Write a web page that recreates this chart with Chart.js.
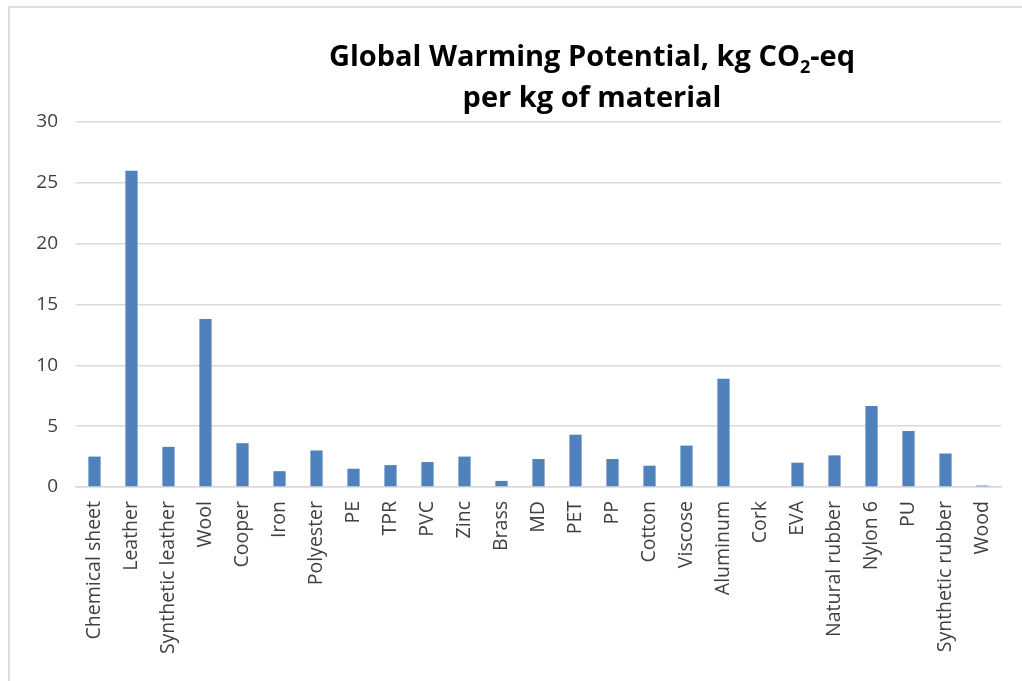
<!DOCTYPE html>
<html>
<head>
<meta charset="utf-8">
<title>Global Warming Potential per kg of material</title>
<script src="https://cdn.jsdelivr.net/npm/chart.js@4.4.1/dist/chart.umd.min.js"></script>
<style>
  html, body { margin: 0; padding: 0; background: #ffffff; }
  #wrap { position: relative; width: 1022px; height: 681px; overflow: hidden; }
  #frame {
    position: absolute; left: 8px; top: 6px; right: -10px; bottom: -10px;
    border-left: 2px solid #dedede; border-top: 2px solid #dedede;
    pointer-events: none;
  }
  canvas { position: absolute; left: 0; top: 0; }
</style>
</head>
<body>
<div id="wrap">
  <canvas id="chart" width="1022" height="681"></canvas>
  <div id="frame"></div>
</div>
<script>
// Materials on the x axis
const materials = [
  "Chemical sheet", "Leather", "Synthetic leather", "Wool", "Cooper", "Iron",
  "Polyester", "PE", "TPR", "PVC", "Zinc", "Brass", "MD", "PET", "PP",
  "Cotton", "Viscose", "Aluminum", "Cork", "EVA", "Natural rubber",
  "Nylon 6", "PU", "Synthetic rubber", "Wood"
];

// Global warming potential, kg CO2-eq per kg of material
const gwpValues = [
  2.5, 26.0, 3.3, 13.8, 3.6, 1.3,
  3.0, 1.5, 1.8, 2.05, 2.5, 0.5, 2.3, 4.3, 2.3,
  1.75, 3.4, 8.9, 0, 2.0, 2.6,
  6.65, 4.6, 2.75, 0.12
];

// Value axis ticks
const yTicks = [0, 5, 10, 15, 20, 25, 30];

const titleLine1 = ["Global Warming Potential, kg CO", "2", "-eq"];
const titleLine2 = "per kg of material";

const FONT = "'Open Sans', 'Noto Sans', sans-serif";

// Two-line title with a subscript "2" in CO2
const titlePlugin = {
  id: "gwpTitle",
  afterDraw(chart) {
    const ctx = chart.ctx;
    const cx = 592;
    ctx.save();
    ctx.fillStyle = "#000000";
    ctx.textBaseline = "alphabetic";
    ctx.textAlign = "left";
    const big = "bold 29px " + FONT;
    const small = "bold 18px " + FONT;
    ctx.font = big;
    const w1 = ctx.measureText(titleLine1[0]).width;
    const w3 = ctx.measureText(titleLine1[2]).width;
    ctx.font = small;
    const w2 = ctx.measureText(titleLine1[1]).width;
    let x = cx - (w1 + w2 + w3) / 2;
    const base1 = 66;
    ctx.font = big;
    ctx.fillText(titleLine1[0], x, base1);
    x += w1;
    ctx.font = small;
    ctx.fillText(titleLine1[1], x, base1 + 7);
    x += w2;
    ctx.font = big;
    ctx.fillText(titleLine1[2], x, base1);
    ctx.textAlign = "center";
    ctx.fillText(titleLine2, cx, 107);
    ctx.restore();
  }
};

new Chart(document.getElementById("chart"), {
  type: "bar",
  data: {
    labels: materials,
    datasets: [{
      data: gwpValues,
      backgroundColor: "#4f81bd",
      borderWidth: 0,
      categoryPercentage: 1.0,
      barPercentage: 0.33
    }]
  },
  options: {
    responsive: false,
    animation: false,
    devicePixelRatio: 1,
    layout: { padding: { top: 122, right: 21, left: 0, bottom: 0 } },
    plugins: {
      legend: { display: false },
      title: { display: false },
      tooltip: { enabled: false }
    },
    scales: {
      x: {
        afterFit(scale) { scale.height = 681 - 487; },
        grid: { display: false, drawTicks: false },
        border: { display: true, color: "#d9d9d9", width: 1.5 },
        ticks: {
          autoSkip: false,
          minRotation: 90,
          maxRotation: 90,
          padding: 14,
          color: "#404040",
          font: { family: FONT, size: 19.5 }
        }
      },
      y: {
        min: 0,
        max: 30,
        afterFit(scale) { scale.width = 76; },
        afterBuildTicks(scale) { scale.ticks = yTicks.map(v => ({ value: v })); },
        grid: { color: "#d9d9d9", lineWidth: 1.5, drawTicks: false },
        border: { display: false },
        ticks: {
          padding: 18,
          color: "#404040",
          font: { family: FONT, size: 19 }
        }
      }
    }
  },
  plugins: [titlePlugin]
});
</script>
</body>
</html>
